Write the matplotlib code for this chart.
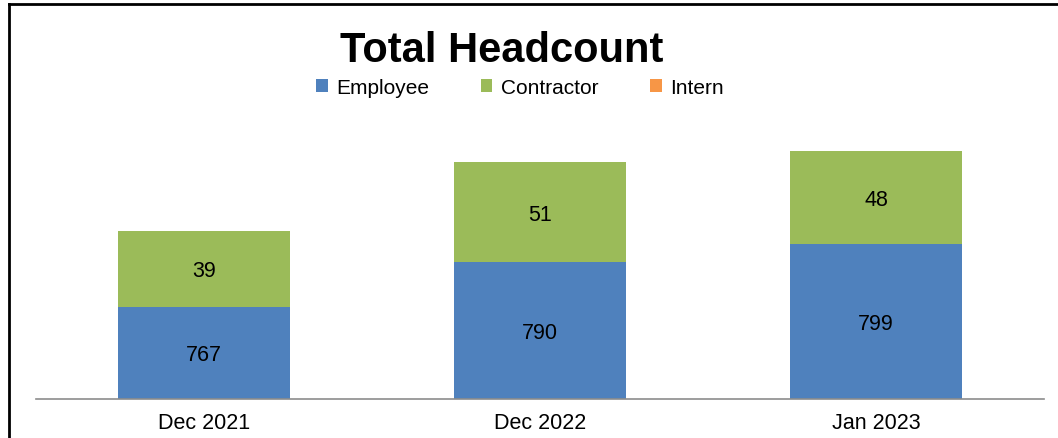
import matplotlib
matplotlib.use("Agg")
import matplotlib.pyplot as plt
from matplotlib.patches import Patch
from matplotlib.lines import Line2D
from matplotlib.transforms import offset_copy

categories = ["Dec 2021", "Dec 2022", "Jan 2023"]
employee = [767, 790, 799]
contractor = [39, 51, 48]
intern = [0, 0, 0]
series_names = ["Employee", "Contractor", "Intern"]
colors = ["#4F81BD", "#9BBB59", "#F79646"]

plt.rcParams['font.family'] = ['Liberation Sans', 'DejaVu Sans']

W, H = 1058, 439
fig = plt.figure(figsize=(W / 100, H / 100), dpi=100)

def fx(px):
    return px / W

def fy(py):
    return 1 - py / H

FLOOR = 720
ax = fig.add_axes([fx(36), fy(399.5), fx(1044) - fx(36), fy(140) - fy(399.5)])
x = list(range(len(categories)))
width = 0.512
emp_h = [v - FLOOR for v in employee]
ax.bar(x, emp_h, width, bottom=FLOOR, color=colors[0], zorder=2)
ax.bar(x, contractor, width, bottom=employee, color=colors[1], zorder=2)
bottoms3 = [e + c for e, c in zip(employee, contractor)]
ax.bar(x, intern, width, bottom=bottoms3, color=colors[2], zorder=2)

ax.set_xlim(-0.5, 2.5)
ax.set_ylim(FLOOR, 853)
for s in ["top", "right", "left"]:
    ax.spines[s].set_visible(False)
ax.spines["bottom"].set_color("#8c8c8c")
ax.spines["bottom"].set_linewidth(1.2)
ax.set_yticks([])
ax.set_xticks(x)
ax.set_xticklabels(categories, fontsize=15.5)
ax.tick_params(axis="x", length=0, pad=10)

lbl_tr = offset_copy(ax.transData, fig=fig, x=0, y=-2, units="dots")
for i in x:
    ax.text(i, (FLOOR + employee[i]) / 2, str(employee[i]), ha="center", va="center",
            fontsize=15.5, color="black", transform=lbl_tr)
    ax.text(i, employee[i] + contractor[i] / 2, str(contractor[i]), ha="center",
            va="center", fontsize=15.5, color="black", transform=lbl_tr)

fig.text(fx(502), fy(51), "Total Headcount", ha="center", va="center",
         fontsize=30, fontweight="bold")

handles = [Patch(facecolor=c, edgecolor="none") for c in colors]
fig.legend(handles, series_names, loc="center", bbox_to_anchor=(fx(520), fy(88.5)),
           ncol=3, frameon=False, fontsize=15, handlelength=0.55, handleheight=0.55,
           handletextpad=0.4, columnspacing=2.5)

fig.add_artist(Line2D([fx(9), fx(9)], [fy(5), 0], color="black", lw=2,
                      transform=fig.transFigure))
fig.add_artist(Line2D([fx(9), 1], [fy(5), fy(5)], color="black", lw=2,
                      transform=fig.transFigure))

fig.savefig("out.png", dpi=100)
